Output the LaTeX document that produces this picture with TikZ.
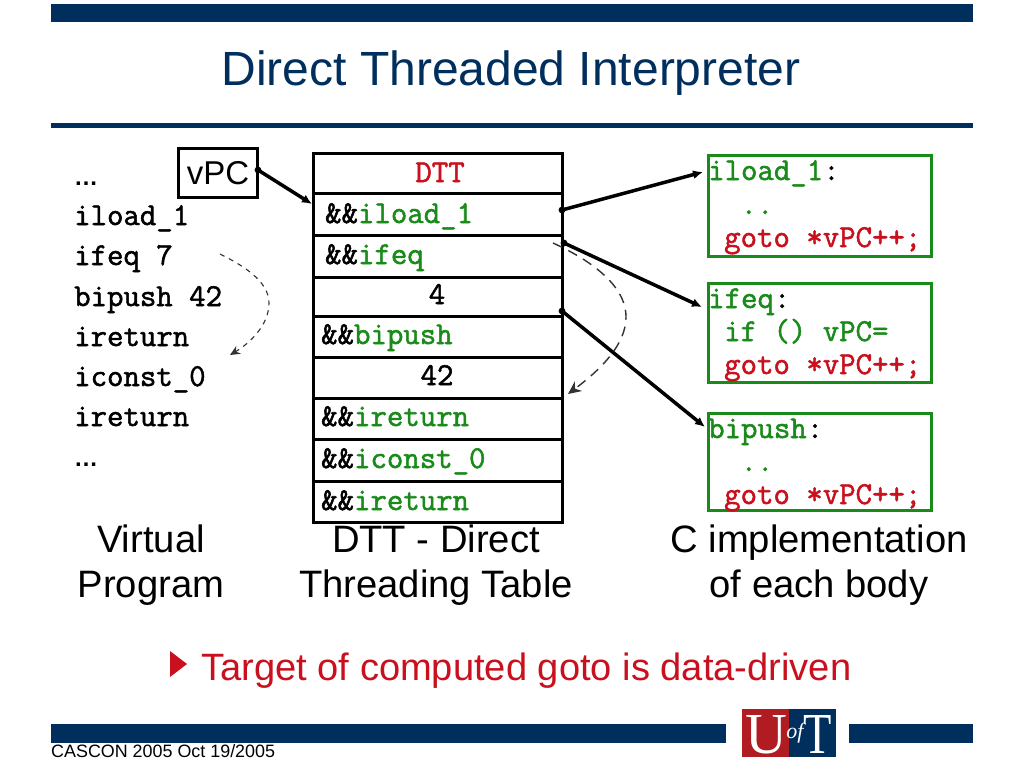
\documentclass[tikz,border=0pt]{standalone}
\usepackage{fontspec}
\usepackage{graphicx}
\setmainfont{Liberation Sans}
\newfontfamily\logoserif{Liberation Serif}
\newfontfamily\codefont[FakeBold=1.6]{Latin Modern Mono}
\usetikzlibrary{arrows.meta}
\definecolor{navy}{HTML}{002F5D}
\definecolor{codegreen}{HTML}{1A8A1A}
\definecolor{codered}{HTML}{C8101E}
\definecolor{utred}{HTML}{B01C22}
\definecolor{dashgray}{HTML}{333333}
\newcommand{\fpx}[1]{\fontsize{#1pt}{#1pt}\selectfont}
\newcommand{\kw}[1]{\textcolor{codegreen}{#1}}
\tikzset{
 x=1pt,y=-1pt,
 prog/.style={anchor=west,inner sep=0pt,text height=20pt,text depth=2pt,font=\codefont\fpx{31.9}},
 cell/.style={anchor=center,inner sep=0pt,text height=20pt,text depth=2pt,font=\codefont\fpx{31.9}},
 captext/.style={anchor=center,inner sep=0pt,align=center,font=\fontsize{38.2pt}{45pt}\selectfont},
 bodybox/.style={draw=codegreen,line width=3pt,inner sep=0pt},
 code/.style={anchor=center,inner sep=0pt,text height=20pt,text depth=2pt,font=\codefont\fpx{31.9}},
 tableline/.style={line width=3pt,draw=black},
 ptr/.style={line width=3.5pt,draw=black,-{Latex[length=10pt,width=9pt]}},
 jump/.style={dash pattern=on 10pt off 7pt,line width=1.4pt,draw=dashgray,-{Stealth[length=13pt,width=12pt]}},
 smalljump/.style={dash pattern=on 5pt off 5pt,line width=1.1pt,draw=dashgray,-{Stealth[length=10pt,width=9pt]}},
}
\begin{document}
\begin{tikzpicture}
\useasboundingbox (0,0) rectangle (1024,768);
\fill[white] (0,0) rectangle (1024,768);
\fill[navy] (51,4) rectangle (973,22);
\fill[navy] (51,123) rectangle (973,128);
\fill[navy] (51,724) rectangle (726,743);
\fill[navy] (849,724) rectangle (973,743);
\node[anchor=center,inner sep=0pt,text=navy,font=\fpx{48}] (title) at (511,73) {Direct Threaded Interpreter};

% program
\node[prog] (p0) at (74,176) {\rmfamily\bfseries\fpx{24}…};
\node[prog] (p1) at (74,216) {iload\_1};
\node[prog] (p2) at (74,256) {ifeq 7};
\node[prog] (p3) at (74,297) {bipush 42};
\node[prog] (p4) at (74,337) {ireturn};
\node[prog] (p5) at (74,377) {iconst\_0};
\node[prog] (p6) at (74,417) {ireturn};
\node[prog] (p7) at (74,457) {\rmfamily\bfseries\fpx{24}…};
\node[draw=black,line width=2.5pt,minimum width=79pt,minimum height=49pt,inner sep=0pt,font=\fpx{33}] (vpc) at (218,173) {vPC};
\coordinate (jsA) at (220,254);
\coordinate (jmA) at (269,303);
\coordinate (jeA) at (230,355);
\draw[smalljump] (jsA) .. controls (240,264) and (269,280) .. (jmA) .. controls (269,325) and (250,343) .. (jeA);

% table
\draw[tableline] (313,153) rectangle (562,522);
\foreach \y in {193,235,277,316,357,398,439,481}{\draw[tableline] (313,\y) -- (562,\y);}
\node[cell,text=codered] (t0) at (440,173) {DTT};
\node[cell,anchor=west] (t1) at (325,214) {\&\&\kw{iload\_1}};
\node[cell,anchor=west] (t2) at (325,255) {\&\&\kw{ifeq}};
\node[cell] (t3) at (437,295) {4};
\node[cell,anchor=west] (t4) at (321,335) {\&\&\kw{bipush}};
\node[cell] (t5) at (437,376) {42};
\node[cell,anchor=west] (t6) at (321,417) {\&\&\kw{ireturn}};
\node[cell,anchor=west] (t7) at (321,459) {\&\&\kw{iconst\_0}};
\node[cell,anchor=west] (t8) at (321,501) {\&\&\kw{ireturn}};

% bodies
\draw[bodybox] (708,155) rectangle (931,256);
\draw[bodybox] (708,283) rectangle (931,382);
\draw[bodybox] (708,413) rectangle (931,510);
\node[code,anchor=west] (c1a) at (708,171) {\kw{iload\_1}:};
\node[code,text=codegreen] (c1b) at (757,205) {..};
\node[code,anchor=west,text=codered] (c1c) at (724,238) {goto *vPC++;};
\node[code,anchor=west] (c2a) at (708,299) {\kw{ifeq}:};
\node[code,anchor=west,text=codegreen] (c2b) at (724,332) {if () vPC=};
\node[code,anchor=west,text=codered] (c2c) at (724,365) {goto *vPC++;};
\node[code,anchor=west] (c3a) at (708,429) {\kw{bipush}:};
\node[code,text=codegreen] (c3b) at (757,462) {..};
\node[code,anchor=west,text=codered] (c3c) at (724,495) {goto *vPC++;};

% captions
\node[captext] (capA) at (151,565) {Virtual\\Program};
\node[captext] (capB) at (436,565) {DTT - Direct\\Threading Table};
\node[captext] (capC) at (819,565) {C implementation\\of each body};

% pointers
\coordinate (d0) at (258,170);
\coordinate (e0) at (312,204);
\coordinate (d1) at (562,210);
\coordinate (e1) at (703,172);
\coordinate (d2) at (564,243);
\coordinate (e2) at (702,307);
\coordinate (d3) at (562,311);
\coordinate (e3) at (705,427);
\foreach \p in {d0,d1,d2,d3}{\fill (\p) circle (3.4pt);}
\draw[ptr] (d0) -- (e0);
\draw[ptr] (d1) -- (e1);
\draw[ptr] (d2) -- (e2);
\draw[ptr] (d3) -- (e3);
\coordinate (jsB) at (553,243);
\coordinate (jmB) at (626,317);
\coordinate (jeB) at (568,394);
\draw[jump] (jsB) .. controls (590,260) and (626,285) .. (jmB) .. controls (626,345) and (600,370) .. (jeB);

% bullet
\fill[codered] (170,651) -- (187,664) -- (170,677) -- cycle;
\node[anchor=west,inner sep=0pt,text=codered,font=\fpx{38.1}] (bul) at (201,671) {Target of computed goto is data-driven};
\node[anchor=west,inner sep=0pt,font=\fpx{17.9}] (foot) at (51,751) {CASCON 2005 Oct 19/2005};

% logo
\fill[utred] (742,709) rectangle (789,757);
\fill[navy] (789,709) rectangle (836,757);
\node[inner sep=0pt,anchor=base,text=white,font=\logoserif\fpx{58}] (lU) at (766,753) {U};
\node[inner sep=0pt,anchor=base,text=white,font=\logoserif\itshape\fpx{22}] (lof) at (795,738) {of};
\node[inner sep=0pt,anchor=base,text=white,font=\logoserif\fpx{58}] (lT) at (818,753) {\scalebox{0.8}[1]{T}};
\end{tikzpicture}
\end{document}
